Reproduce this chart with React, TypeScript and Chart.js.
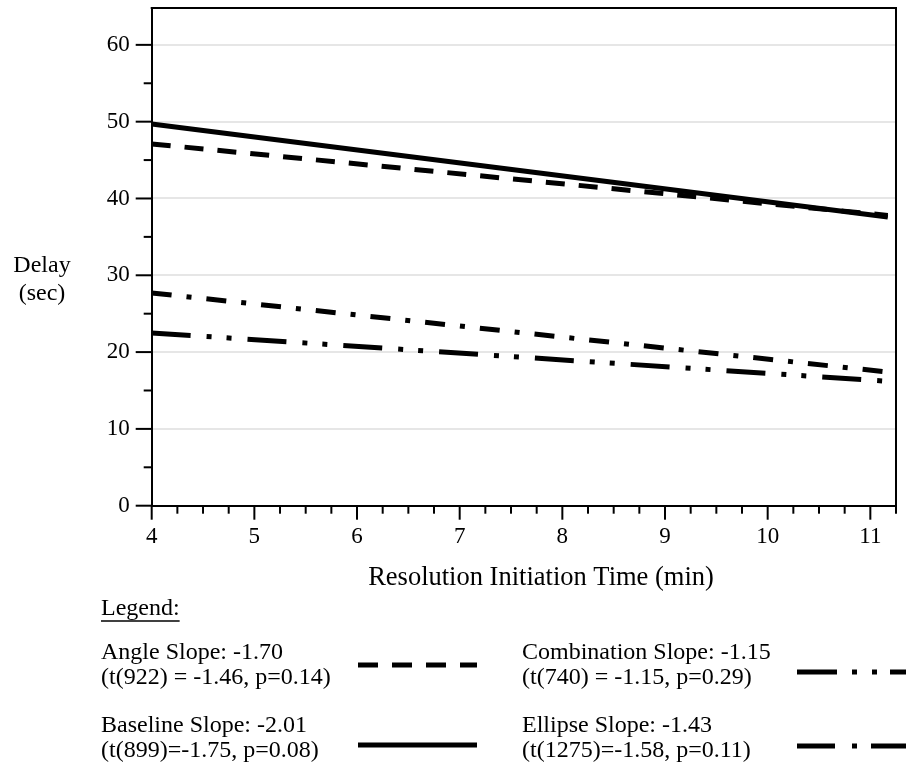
import React, { useEffect, useRef } from "react";
import { Chart, registerables } from "chart.js";

Chart.register(...registerables);

// ---- data ----
const seriesNames = ["Angle", "Baseline", "Combination", "Ellipse"];
const xValues = [4, 11.17];
const angleValues = [47.1, 37.8];
const baselineValues = [49.7, 37.6];
const combinationValues = [22.5, 16.2];
const ellipseValues = [27.7, 17.4];

const xTickValues = [4, 5, 6, 7, 8, 9, 10, 11];
const yTickValues = [0, 10, 20, 30, 40, 50, 60];

const xMin = 4;
const xMax = 11.25;
const yMin = 0;
const yMax = 64.8;
const xMajorStep = 1;
const xMinorStep = 0.25;
const yMajorStep = 10;
const yMinorStep = 5;

const xTitle = "Resolution Initiation Time (min)";
const yTitleLines = ["Delay", "(sec)"];
const legendTitle = "Legend:";
const legendSlopeLines = [
  "Angle Slope: -1.70",
  "Baseline Slope: -2.01",
  "Combination Slope: -1.15",
  "Ellipse Slope: -1.43",
];
const legendStatLines = [
  "(t(922) = -1.46, p=0.14)",
  "(t(899)=-1.75, p=0.08)",
  "(t(740) = -1.15, p=0.29)",
  "(t(1275)=-1.58, p=0.11)",
];

// ---- styles ----
const FONT_FAMILY = '"Liberation Serif", "Times New Roman", serif';
const TICK_FONT_SIZE = 23;
const TEXT_FONT_SIZE = 24;
const XTITLE_FONT_SIZE = 26.5;
const plotDashes: number[][] = [
  [19, 14],
  [],
  [39, 16, 5, 15, 5, 16],
  [20, 15, 5, 15],
];
const legendDashes: number[][] = [
  [20, 14],
  [],
  [40, 15, 5, 15, 5, 13],
  [38, 17, 5, 14],
];

const decorPlugin = {
  id: "decor",
  afterDraw(chart: any) {
    const { ctx, chartArea: ca, scales } = chart;
    const xs = scales.x;
    const ys = scales.y;
    ctx.save();
    ctx.strokeStyle = "#000";
    ctx.lineWidth = 2;
    ctx.lineCap = "butt";
    ctx.setLineDash([]);
    // frame top and right
    ctx.beginPath();
    ctx.moveTo(ca.left - 1, ca.top);
    ctx.lineTo(ca.right, ca.top);
    ctx.lineTo(ca.right, ca.bottom);
    ctx.stroke();

    // x ticks
    const nx = Math.round((xMax - xMin) / xMinorStep);
    for (let i = 0; i <= nx; i++) {
      const v = xMin + i * xMinorStep;
      const px = xs.getPixelForValue(v);
      const major = Math.abs(v / xMajorStep - Math.round(v / xMajorStep)) < 1e-6;
      ctx.beginPath();
      ctx.moveTo(px, ca.bottom);
      ctx.lineTo(px, ca.bottom + (major ? 14 : 8));
      ctx.stroke();
    }
    // y ticks
    const ny = Math.floor((yMax - yMin) / yMinorStep + 1e-6);
    for (let i = 0; i <= ny; i++) {
      const v = yMin + i * yMinorStep;
      const py = ys.getPixelForValue(v);
      const major = Math.abs(v / yMajorStep - Math.round(v / yMajorStep)) < 1e-6;
      ctx.beginPath();
      ctx.moveTo(ca.left, py);
      ctx.lineTo(ca.left - (major ? 16 : 8), py);
      ctx.stroke();
    }

    // titles
    ctx.fillStyle = "#000";
    ctx.textBaseline = "middle";
    ctx.textAlign = "center";
    ctx.font = `${XTITLE_FONT_SIZE}px ${FONT_FAMILY}`;
    ctx.fillText(xTitle, 541, 578);
    ctx.font = `${TEXT_FONT_SIZE}px ${FONT_FAMILY}`;
    ctx.fillText(yTitleLines[0], 42, 266);
    ctx.fillText(yTitleLines[1], 42, 294);

    // legend
    ctx.textAlign = "left";
    ctx.fillText(legendTitle, 101, 609);
    const tw = ctx.measureText(legendTitle).width;
    ctx.lineWidth = 1.5;
    ctx.beginPath();
    ctx.moveTo(101, 621);
    ctx.lineTo(101 + tw, 621);
    ctx.stroke();

    const colText = [101, 101, 522, 522];
    const rowY = [653, 726, 653, 726];
    const swX0 = [358, 358, 797, 797];
    const swX1 = [477, 477, 906, 906];
    const swY = [665, 745, 672, 746];
    for (let i = 0; i < seriesNames.length; i++) {
      ctx.fillText(legendSlopeLines[i], colText[i], rowY[i]);
      ctx.fillText(legendStatLines[i], colText[i], rowY[i] + 25);
      ctx.lineWidth = 5;
      ctx.setLineDash(legendDashes[i]);
      ctx.beginPath();
      ctx.moveTo(swX0[i], swY[i]);
      ctx.lineTo(swX1[i], swY[i]);
      ctx.stroke();
    }
    ctx.restore();
  },
};

export default function App() {
  const ref = useRef<HTMLCanvasElement | null>(null);
  useEffect(() => {
    if (!ref.current) return;
    const seriesValues = [angleValues, baselineValues, combinationValues, ellipseValues];
    const chart = new Chart(ref.current, {
      type: "line",
      data: {
        datasets: seriesNames.map((name, i) => ({
          label: name,
          data: xValues.map((x, j) => ({ x, y: seriesValues[i][j] })),
          borderColor: "#000",
          backgroundColor: "#000",
          borderWidth: 5,
          borderDash: plotDashes[i],
          borderCapStyle: "butt" as const,
          pointRadius: 0,
          tension: 0,
          fill: false,
        })),
      },
      options: {
        responsive: false,
        animation: false,
        layout: { padding: { left: 91.7, right: 10, top: 8, bottom: 213.3 } },
        plugins: { legend: { display: false }, tooltip: { enabled: false } },
        scales: {
          x: {
            type: "linear",
            min: xMin,
            max: xMax,
            afterBuildTicks: (s: any) => {
              s.ticks = xTickValues.map((v) => ({ value: v }));
            },
            afterFit: (s: any) => {
              s.height = 60;
              s.paddingLeft = 0;
              s.paddingRight = 0;
              s.paddingTop = 0;
              s.paddingBottom = 0;
            },
            ticks: {
              stepSize: xMajorStep,
              includeBounds: false,
              autoSkip: false,
              maxRotation: 0,
              padding: 17,
              color: "#000",
              font: { family: FONT_FAMILY, size: TICK_FONT_SIZE },
            },
            grid: { display: false, drawTicks: false },
            border: { display: true, color: "#000", width: 2 },
          },
          y: {
            type: "linear",
            min: yMin,
            max: yMax,
            afterBuildTicks: (s: any) => {
              s.ticks = yTickValues.map((v) => ({ value: v }));
            },
            afterFit: (s: any) => {
              s.width = 60;
              s.paddingLeft = 0;
              s.paddingRight = 0;
              s.paddingTop = 0;
              s.paddingBottom = 0;
            },
            ticks: {
              stepSize: yMajorStep,
              includeBounds: false,
              padding: 22,
              color: "#000",
              font: { family: FONT_FAMILY, size: TICK_FONT_SIZE },
            },
            grid: {
              drawTicks: false,
              lineWidth: 2,
              color: (c: any) => (c.tick && c.tick.value === 0 ? "rgba(0,0,0,0)" : "#e6e6e6"),
            },
            border: { display: true, color: "#000", width: 2 },
          },
        },
      },
      plugins: [decorPlugin],
    });
    return () => chart.destroy();
  }, []);
  return (
    <div style={{ position: "absolute", left: 0, top: 0, width: 906, height: 779, background: "#fff" }}>
      <canvas ref={ref} width={906} height={779} style={{ width: 906, height: 779 }} />
    </div>
  );
}
